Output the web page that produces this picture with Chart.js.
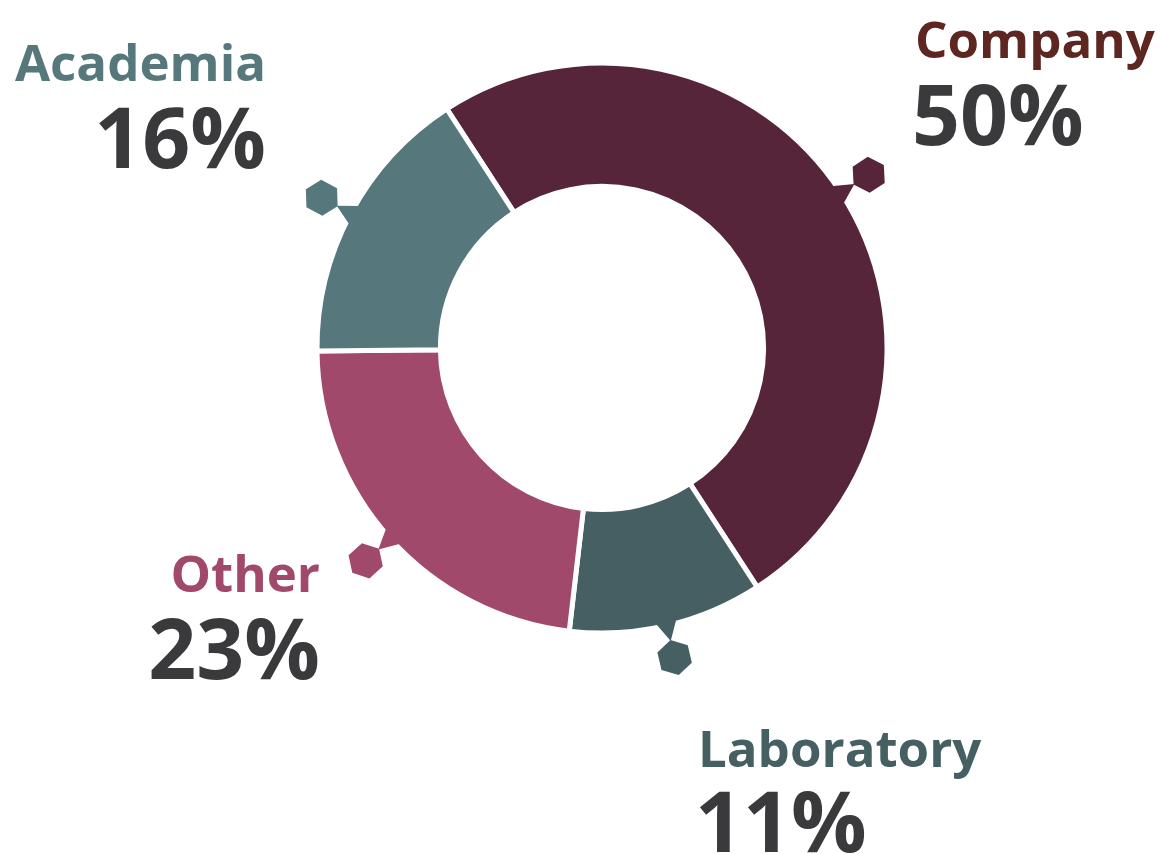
<!DOCTYPE html>
<html>
<head>
<meta charset="utf-8">
<script src="https://cdn.jsdelivr.net/npm/chart.js@4.4.0/dist/chart.umd.min.js"></script>
<style>
  html,body{margin:0;padding:0;background:#fff;}
  #wrap{position:relative;width:1160px;height:854px;}
</style>
</head>
<body>
<div id="wrap"><canvas id="c-share" width="1160" height="854"></canvas></div>
<script>
// data
const labels=['Company','Laboratory','Other','Academia'];
const shares=[50,11,23,16];
const sliceColors=['#56253a','#455f63','#a0496a','#56787c'];
const labelColors=['#5e2620','#455f63','#a0496a','#56787c'];

// label placement (x, baseline of name, baseline of %, alignment)
const labelPos=[
  {x:915,y1:58,y2:145,align:'left'},
  {x:698,y1:767,y2:852,align:'left'},
  {x:320,y1:592,y2:679,align:'right'},
  {x:266,y1:81,y2:168,align:'right'},
];

const FONT="'Open Sans', 'Noto Sans', sans-serif";

const markers={
  id:'markers',
  afterDatasetsDraw(chart){
    const ctx=chart.ctx;
    const meta=chart.getDatasetMeta(0);
    meta.data.forEach((arc,i)=>{
      const {x,y,startAngle,endAngle,outerRadius}=arc.getProps(['x','y','startAngle','endAngle','outerRadius'],true);
      const mid=(startAngle+endAngle)/2;
      const hr=18, hd=outerRadius+33;
      const cx=x+Math.cos(mid)*hd, cy=y+Math.sin(mid)*hd;
      const ux=Math.cos(mid),uy=Math.sin(mid),px=-uy,py=ux;
      ctx.save();
      ctx.fillStyle=sliceColors[i];
      // pointer
      const br=outerRadius-5, tip=hd-hr+1;
      ctx.beginPath();
      ctx.moveTo(x+ux*br+px*11,y+uy*br+py*11);
      ctx.lineTo(x+ux*tip,y+uy*tip);
      ctx.lineTo(x+ux*br-px*11,y+uy*br-py*11);
      ctx.closePath();ctx.fill();
      // hexagon, one vertex toward centre
      ctx.beginPath();
      for(let k=0;k<6;k++){
        const a=mid+Math.PI+k*Math.PI/3;
        const vx=cx+Math.cos(a)*hr,vy=cy+Math.sin(a)*hr;
        k?ctx.lineTo(vx,vy):ctx.moveTo(vx,vy);
      }
      ctx.closePath();ctx.fill();
      ctx.restore();
    });
  },
  afterDraw(chart){
    const ctx=chart.ctx;
    labels.forEach((lab,i)=>{
      const p=labelPos[i];
      ctx.save();
      ctx.textAlign=p.align;ctx.textBaseline='alphabetic';
      ctx.fillStyle=labelColors[i];
      ctx.font="bold 51px "+FONT;
      ctx.fillText(lab,p.x,p.y1);
      ctx.fillStyle='#3a3a3c';
      ctx.font="bold 84px "+FONT;
      ctx.fillText(shares[i]+'%',p.x-(p.align==='left'?3:0),p.y2);
      ctx.restore();
    });
  }
};

new Chart(document.getElementById('c-share').getContext('2d'),{
  type:'doughnut',
  data:{labels,datasets:[{data:shares,backgroundColor:sliceColors,borderColor:'#fff',borderWidth:5,hoverOffset:0}]},
  options:{
    responsive:false,animation:false,
    radius:285,cutout:'56.7%',rotation:-33,
    layout:{padding:{left:44,right:0,top:0,bottom:158}},
    plugins:{legend:{display:false},tooltip:{enabled:false}}
  },
  plugins:[markers]
});
</script>
</body>
</html>
